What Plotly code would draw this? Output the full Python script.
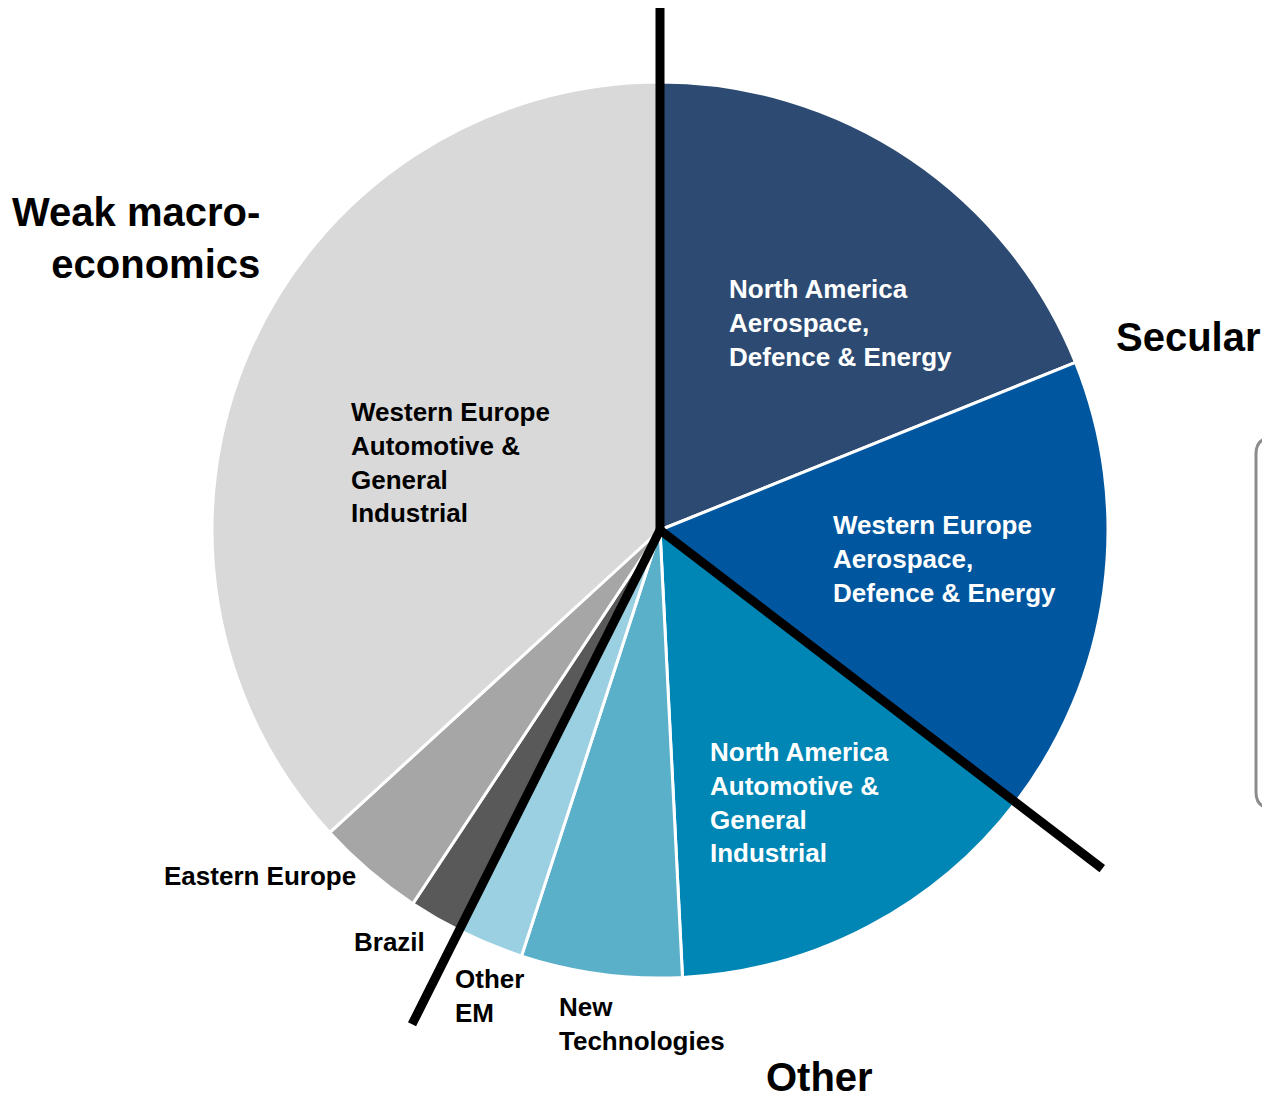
import math
import plotly.graph_objects as go

# Revenue mix by end market (share of total, %), clockwise from 12 o'clock
segments = [
    "North America Aerospace, Defence & Energy",
    "Western Europe Aerospace, Defence & Energy",
    "North America Automotive & General Industrial",
    "New Technologies",
    "Other EM",
    "Brazil",
    "Eastern Europe",
    "Western Europe Automotive & General Industrial",
]
shares = [18.9, 16.5, 13.8, 5.8, 2.4, 1.9, 3.9, 36.8]

# Multi-line slice captions
captions = [
    "North America<br>Aerospace,<br>Defence & Energy",
    "Western Europe<br>Aerospace,<br>Defence & Energy",
    "North America<br>Automotive &<br>General<br>Industrial",
    "New<br>Technologies",
    "Other<br>EM",
    "Brazil",
    "Eastern Europe",
    "Western Europe<br>Automotive &<br>General<br>Industrial",
]

# Groupings: a divider is drawn before slice index k
group_names = ["Secular", "Other", "Weak macro-<br>economics"]
group_starts = [0, 2, 5]

# ---- styling / layout -------------------------------------------------
W, H = 1262, 1101
CX, CY, R = 660, 530, 448
FONT = "Liberation Sans, Arial, sans-serif"

colors = ["#2D4B72", "#00579F", "#0086B4", "#5AAFC9",
          "#9AD0E1", "#595959", "#A6A6A6", "#D9D9D9"]

caption_style = [
    # (x_left, y_middle, colour)
    (727, 323, "white"),
    (831, 559, "white"),
    (708, 802, "white"),
    (557, 1024, "black"),
    (453, 996, "black"),
    (352, 942, "black"),
    (162, 876, "black"),
    (349, 462, "black"),
]
group_label_style = [
    # (x, y, xanchor, yanchor, align)
    (1114, 337, "left", "middle", "left"),
    (764, 1101, "left", "bottom", "left"),
    (262, 238, "right", "middle", "right"),
]
divider_lengths = [522, 557, 553]


def px(x):
    return x / W


def py(y):
    return 1 - y / H


fig = go.Figure(
    go.Pie(
        labels=segments,
        values=shares,
        sort=False,
        direction="clockwise",
        rotation=0,
        marker=dict(colors=colors, line=dict(color="white", width=3)),
        textinfo="none",
        hoverinfo="label+percent",
        domain=dict(x=[px(CX - R), px(CX + R)], y=[py(CY + R), py(CY - R)]),
    )
)

# Black dividers between the groups, at the cumulative slice angles
total = sum(shares)
shapes = []
for k, length in zip(group_starts, divider_lengths):
    theta = math.radians(360 * sum(shares[:k]) / total)
    x1 = CX + length * math.sin(theta)
    y1 = CY - length * math.cos(theta)
    shapes.append(dict(
        type="line", xref="paper", yref="paper", layer="above",
        x0=px(CX), y0=py(CY), x1=px(x1), y1=py(y1),
        line=dict(color="black", width=9),
    ))

# Partly visible rounded legend frame at the right edge
bx, by0, by1, rc = 1256, 438, 808, 16
path = (f"M {px(1300)},{py(by0)} L {px(bx + rc)},{py(by0)} "
        f"Q {px(bx)},{py(by0)} {px(bx)},{py(by0 + rc)} "
        f"L {px(bx)},{py(by1 - rc)} "
        f"Q {px(bx)},{py(by1)} {px(bx + rc)},{py(by1)} "
        f"L {px(1300)},{py(by1)}")
shapes.append(dict(type="path", xref="paper", yref="paper", path=path,
                   line=dict(color="#8C8C8C", width=3)))

annotations = []
for text, (x, y, col) in zip(captions, caption_style):
    annotations.append(dict(
        text=f"<b>{text}</b>", x=px(x), y=py(y), xref="paper", yref="paper",
        xanchor="left", yanchor="middle", align="left", showarrow=False,
        font=dict(family=FONT, size=26, color=col),
    ))
for text, (x, y, xa, ya, al) in zip(group_names, group_label_style):
    annotations.append(dict(
        text=f"<b>{text}</b>", x=px(x), y=py(y), xref="paper", yref="paper",
        xanchor=xa, yanchor=ya, align=al, showarrow=False,
        font=dict(family=FONT, size=40, color="black"),
    ))

fig.update_layout(
    width=W, height=H,
    margin=dict(l=0, r=0, t=0, b=0),
    paper_bgcolor="white", plot_bgcolor="white",
    showlegend=False,
    shapes=shapes,
    annotations=annotations,
)

fig.write_html("out.html")
